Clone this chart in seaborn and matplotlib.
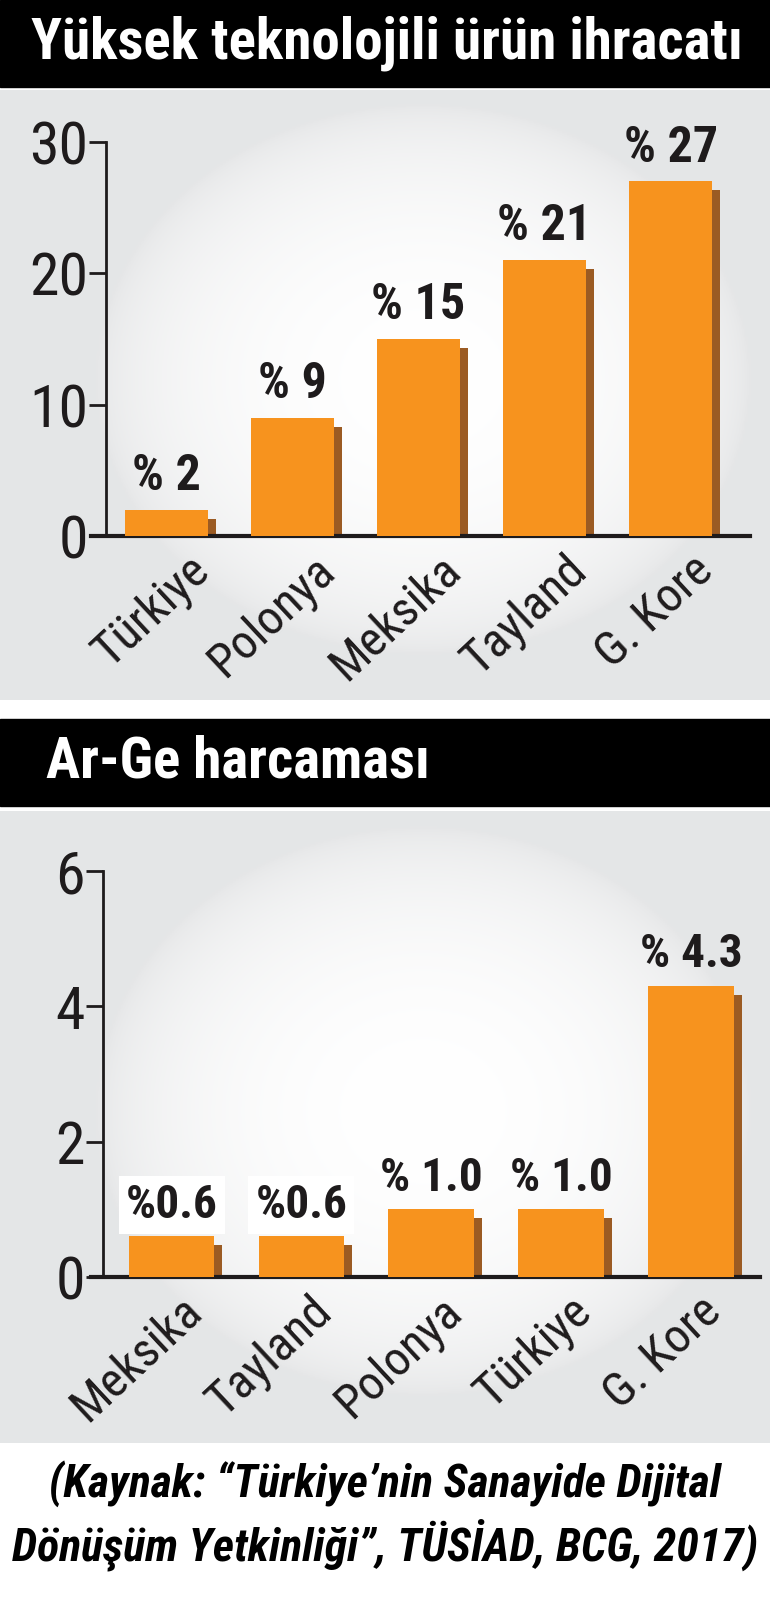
import numpy as np
import pandas as pd
import matplotlib
matplotlib.use("Agg")
import matplotlib.pyplot as plt
from matplotlib import font_manager
from matplotlib.patches import Rectangle
from matplotlib.transforms import ScaledTranslation
import seaborn as sns

# --- data -------------------------------------------------------------
export_countries = ["Türkiye", "Polonya", "Meksika", "Tayland", "G. Kore"]
export_share = [2, 9, 15, 21, 27]
export_labels = ["% 2", "% 9", "% 15", "% 21", "% 27"]
export_ticks = [0, 10, 20, 30]

rd_countries = ["Meksika", "Tayland", "Polonya", "Türkiye", "G. Kore"]
rd_share = [0.6, 0.6, 1.0, 1.0, 4.3]
rd_labels = ["%0.6", "%0.6", "% 1.0", "% 1.0", "% 4.3"]
rd_ticks = [0, 2, 4, 6]

title_top = "Yüksek teknolojili ürün ihracatı"
title_bottom = "Ar-Ge harcaması"
source_lines = ["(Kaynak: “Türkiye’nin Sanayide Dijital",
                "Dönüşüm Yetkinliği”, TÜSİAD, BCG, 2017)"]

ORANGE = "#f7931e"
SHADOW = "#9b5b23"
INK = "#1e1b1c"

# pick the narrowest family that is actually installed
installed = {f.name for f in font_manager.fontManager.ttflist}
narrow = [n for n in ["Liberation Sans Narrow", "Roboto Condensed", "Open Sans Condensed",
                      "DejaVu Sans Condensed", "Roboto", "Liberation Sans"] if n in installed]
FAMILY = narrow[:1] + ["DejaVu Sans"]

sns.set_style("ticks")
plt.rcParams["font.family"] = FAMILY
plt.rcParams["font.stretch"] = "condensed"

W, H = 770, 1609
fig = plt.figure(figsize=(W / 100, H / 100), dpi=100)
fig.patch.set_facecolor("white")


def box(x0, y0, x1, y1):
    # pixel box (top-left origin) -> figure fraction rect
    return [x0 / W, 1 - y1 / H, (x1 - x0) / W, (y1 - y0) / H]


def gradient_panel(y0, y1):
    bg = fig.add_axes(box(0, y0, W, y1), zorder=-5)
    h = int(y1 - y0)
    xx, yy = np.meshgrid(np.linspace(-1, 1, 300), np.linspace(-1, 1, max(h // 2, 50)))
    r = ((xx - 0.1) / 0.85) ** 2 + ((yy + 0.05) / 0.9) ** 2
    t = np.clip(1 - r, 0, 1) ** 0.6
    gray = np.array([0.898, 0.902, 0.906])
    img = gray[None, None, :] + (1 - gray)[None, None, :] * t[..., None]
    bg.imshow(img, aspect="auto", extent=[0, 1, 0, 1])
    bg.set_axis_off()


def title_bar(y0, y1, text, x_text, size):
    fig.patches.append(Rectangle((0, 1 - y1 / H), 1, (y1 - y0) / H,
                                 transform=fig.transFigure, color="black", zorder=0))
    fig.text(x_text / W, 1 - (y0 + y1) / 2 / H, text, color="white", fontsize=size,
             fontweight="bold", va="center", ha="left")


def bar_panel(rect, cats, vals, labels, ticks, xlim, spine_x, label_size,
              tick_dx, white_box=()):
    ax = fig.add_axes(rect)
    ax.set_facecolor("none")
    df = pd.DataFrame({"land": cats, "deger": vals})
    # shadow bars, shifted right/down afterwards
    sns.barplot(data=df, x="land", y="deger", color=SHADOW, width=0.66,
                saturation=1, ax=ax, zorder=2)
    n_shadow = len(ax.patches)
    shift = ScaledTranslation(8 / 100, -9 / 100, fig.dpi_scale_trans)
    for p in ax.patches[:n_shadow]:
        p.set_transform(ax.transData + shift)
        p.set_linewidth(0)
    sns.barplot(data=df, x="land", y="deger", color=ORANGE, width=0.66,
                saturation=1, ax=ax, zorder=3)
    for p in ax.patches[n_shadow:]:
        p.set_linewidth(0)

    texts = ax.bar_label(ax.containers[-1], labels=labels, padding=7,
                         fontsize=label_size, fontweight="bold", color=INK)
    for i in white_box:
        texts[i].set_bbox(dict(facecolor="white", edgecolor="none", pad=5))

    ax.set_xlim(*xlim)
    ax.set_ylim(ticks[0], ticks[-1])
    ax.set_yticks(ticks)
    ax.set_xlabel("")
    ax.set_ylabel("")
    sns.despine(ax=ax)
    ax.spines["left"].set_position(("data", spine_x))
    ax.spines["left"].set_linewidth(2)
    ax.spines["bottom"].set_linewidth(3)
    ax.spines["left"].set_color(INK)
    ax.spines["bottom"].set_color(INK)
    ax.tick_params(axis="y", length=12, width=2, color=INK, labelsize=43,
                   labelcolor=INK, pad=1)
    ax.tick_params(axis="x", length=0, labelsize=35, labelcolor=INK, pad=8)
    offset = ScaledTranslation(tick_dx / 100, 0, fig.dpi_scale_trans)
    for lab in ax.get_xticklabels():
        lab.set_rotation(43)
        lab.set_ha("right")
        lab.set_va("top")
        lab.set_rotation_mode("anchor")
        lab.set_transform(lab.get_transform() + offset)
    return ax


# top panel
title_bar(0, 87, title_top, 31, 41)
gradient_panel(90, 700)
bar_panel(box(91, 142, 750, 536), export_countries, export_share, export_labels,
          export_ticks, (-0.60, 4.63), -0.48, 36, 20)

# bottom panel
title_bar(719, 806, title_bottom, 46, 41)
gradient_panel(811, 1443)
bar_panel(box(91, 871, 760, 1277), rd_countries, rd_share, rd_labels,
          rd_ticks, (-0.62, 4.53), -0.53, 34, 8, white_box=(0, 1))

# source note
for k, line in enumerate(source_lines):
    fig.text(0.5, 1 - (1484 + 61 * k) / H, line, ha="center", va="center",
             fontsize=33, fontweight="bold", style="italic", color="black")

fig.savefig("out.png", dpi=100, facecolor="white")
